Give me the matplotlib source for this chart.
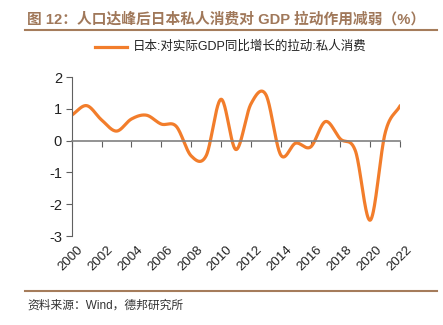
import numpy as np
import matplotlib.pyplot as plt
from matplotlib.lines import Line2D

plt.rcParams['font.family'] = ['Liberation Sans', 'Noto Sans CJK SC', 'DejaVu Sans']

years = list(range(2000, 2023))
values = [0.80, 1.10, 0.65, 0.30, 0.68, 0.80, 0.52, 0.45, -0.48, -0.48, 1.30,
          -0.28, 1.15, 1.45, -0.45, -0.08, -0.20, 0.60, 0.05, -0.32, -2.50, 0.25, 1.10]
xtick_years = list(range(2000, 2023, 2))
yticks = [2, 1, 0, -1, -2, -3]

title = '图 12：人口达峰后日本私人消费对 GDP 拉动作用减弱（%）'
series_name = '日本:对实际GDP同比增长的拉动:私人消费'
source = '资料来源：Wind，德邦研究所'

orange = '#F27D2B'
brown = '#A57C5B'


def smooth(x, y, n=40):
    # catmull-rom, similar to Excel's smoothed line
    x = np.asarray(x, float)
    y = np.asarray(y, float)
    m = np.zeros_like(y)
    m[1:-1] = (y[2:] - y[:-2]) / 2
    m[0] = y[1] - y[0]
    m[-1] = y[-1] - y[-2]
    xs, ys = [], []
    for i in range(len(x) - 1):
        t = np.linspace(0, 1, n, endpoint=False)
        h00 = 2 * t**3 - 3 * t**2 + 1
        h10 = t**3 - 2 * t**2 + t
        h01 = -2 * t**3 + 3 * t**2
        h11 = t**3 - t**2
        xs.append(x[i] + t * (x[i + 1] - x[i]))
        ys.append(h00 * y[i] + h10 * m[i] + h01 * y[i + 1] + h11 * m[i + 1])
    xs.append([x[-1]])
    ys.append([y[-1]])
    return np.concatenate(xs), np.concatenate(ys)


fig = plt.figure(figsize=(4.43, 3.25), dpi=100)
ax = fig.add_axes([0.1619, 0.2738, 0.7414, 0.4892])

sx, sy = smooth(years, values)
ax.plot(sx, sy, color=orange, lw=2.3, solid_capstyle='round')

ax.set_xlim(2000, 2022)
ax.set_ylim(-3, 2)
ax.set_yticks(yticks)
ax.set_yticklabels([str(v) for v in yticks], fontsize=10.5, color='#222222')
ax.set_xticks(xtick_years)

for s in ['top', 'right']:
    ax.spines[s].set_visible(False)
ax.spines['bottom'].set_position(('data', 0))
ax.spines['bottom'].set_color('#808080')
ax.spines['left'].set_color('#606060')
ax.spines['bottom'].set_linewidth(1.2)
ax.tick_params(axis='x', direction='out', length=4, color='#606060',
               labelbottom=False)
ax.tick_params(axis='y', direction='out', length=4, color='#606060', pad=3)
# x labels sit below the plot area, not at the zero line
for yr in xtick_years:
    ax.text(yr + 0.35, -3.25, str(yr), rotation=45, ha='right', va='top',
            rotation_mode='anchor', fontsize=9.5, color='#222222')

# title and rules
fig.text(27 / 443, 1 - 19 / 325, title, fontsize=10.6, fontweight='bold',
         color='#A0785A', va='center', ha='left')
fig.add_artist(Line2D([25 / 443, 437 / 443], [1 - 30 / 325, 1 - 30 / 325],
                      color=brown, lw=1.5))
fig.add_artist(Line2D([25 / 443, 437 / 443], [1 - 291 / 325, 1 - 291 / 325],
                      color=brown, lw=1.5))
fig.text(27 / 443, 1 - 306 / 325, source, fontsize=8.5, color='#333333',
         va='center', ha='left')

# legend
fig.add_artist(Line2D([95 / 443, 127 / 443], [1 - 47 / 325, 1 - 47 / 325],
                      color=orange, lw=2.3))
fig.text(133 / 443, 1 - 47 / 325, series_name, fontsize=9, color='#222222',
         va='center', ha='left')

fig.savefig('out.png', dpi=100)
